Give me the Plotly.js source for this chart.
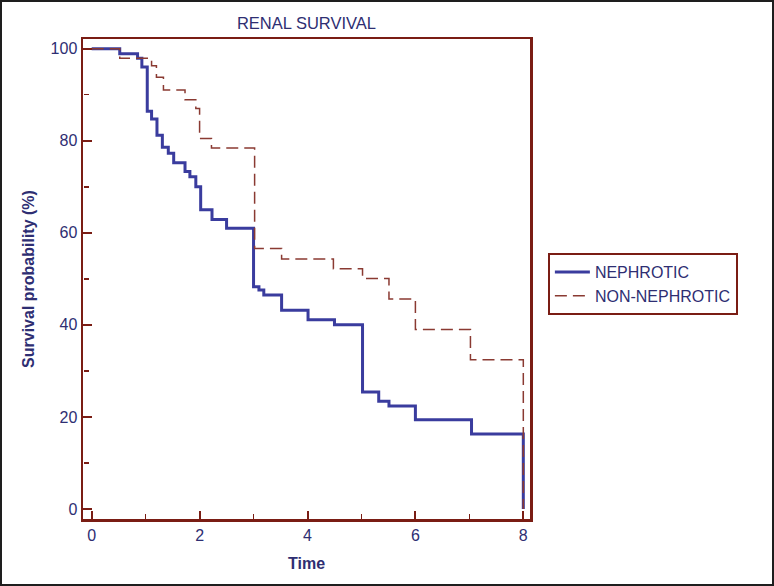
<!DOCTYPE html>
<html>
<head>
<meta charset="utf-8">
<script src="https://cdn.plot.ly/plotly-3.0.1.min.js"></script>
<style>
  html, body { margin: 0; padding: 0; background: #fff; }
  #chart { width: 774px; height: 586px; }
  #frame { position: absolute; left: 0; top: 0; width: 774px; height: 586px; box-sizing: border-box; border: 2px solid #1e1e1e; pointer-events: none; }
</style>
</head>
<body>
<div id="chart"></div>
<div id="frame"></div>
<script>
// Kaplan-Meier step data (time, survival %)
const nephroticTime = [0, 0.52, 0.85, 0.93, 1.03, 1.11, 1.21, 1.31, 1.42, 1.52, 1.73, 1.82, 1.93, 2.02, 2.23, 2.5, 3.0, 3.1, 3.19, 3.52, 4.01, 4.5, 5.02, 5.32, 5.51, 6.0, 7.04, 8.0];
const nephroticSurv = [100, 98.9, 97.9, 96.0, 86.4, 84.7, 81.2, 78.6, 77.3, 75.2, 73.3, 72.2, 70.0, 65.0, 62.9, 61.0, 48.3, 47.6, 46.5, 43.2, 41.1, 40.0, 25.4, 23.4, 22.4, 19.4, 16.3, 0];

const nonNephroticTime = [0, 0.52, 1.11, 1.2, 1.33, 1.73, 1.93, 2.0, 2.22, 3.02, 3.52, 4.48, 5.02, 5.51, 6.0, 7.02, 8.0];
const nonNephroticSurv = [100, 97.9, 96.3, 93.8, 91.0, 88.9, 87.0, 80.5, 78.4, 56.6, 54.3, 52.2, 50.1, 45.6, 39.0, 32.4, 0];

const seriesNames = ["NEPHROTIC", "NON-NEPHROTIC"];
const xTickStep = 2;
const yTickStep = 20;

const maroon = "#7a1d14";
const navy = "#2e2e72";
const font = "Liberation Sans, Arial, sans-serif";
const xRange = [-0.161, 8.124];
const yRange = [-2.17, 102.1];

const traces = [
  {
    x: nephroticTime, y: nephroticSurv, name: seriesNames[0],
    type: "scatter", mode: "lines",
    line: { shape: "hv", color: "#3a3c9e", width: 3 }
  },
  {
    x: nonNephroticTime, y: nonNephroticSurv, name: seriesNames[1],
    type: "scatter", mode: "lines",
    line: { shape: "hv", color: "#8a3a32", width: 1.5, dash: "12px,6px" }
  },
  // empty trace that only creates the overlay subplot carrying the inward tick marks
  { x: [], y: [], type: "scatter", mode: "lines", xaxis: "x2", yaxis: "y2", showlegend: false, hoverinfo: "skip" }
];

const layout = {
  width: 774, height: 586,
  margin: { l: 83, r: 244, t: 39, b: 67, pad: 0 },
  paper_bgcolor: "#ffffff", plot_bgcolor: "#ffffff",
  font: { family: font, color: navy, size: 16 },
  title: {
    text: "RENAL SURVIVAL",
    font: { family: font, size: 16.5, color: navy },
    xref: "paper", x: 0.5, xanchor: "center",
    yref: "container", y: 1 - 23 / 586, yanchor: "middle"
  },
  showlegend: true,
  legend: {
    x: 1.04, xanchor: "left", y: 0.554, yanchor: "top",
    bordercolor: maroon, borderwidth: 2, bgcolor: "#ffffff",
    font: { family: font, size: 16, color: navy },
    itemwidth: 35,
    tracegroupgap: 0
  },
  xaxis: {
    range: xRange,
    tickmode: "linear", tick0: 0, dtick: xTickStep,
    ticks: "inside", ticklen: 8, tickwidth: 2, tickcolor: maroon,
    showline: true, linecolor: maroon, linewidth: 2.5, mirror: true,
    showgrid: false, zeroline: false,
    tickfont: { family: font, size: 16, color: navy },
    title: { text: "<b>Time</b>", font: { family: font, size: 16, color: navy }, standoff: 15 }
  },
  yaxis: {
    range: yRange,
    tickmode: "linear", tick0: 0, dtick: yTickStep,
    ticks: "inside", ticklen: 8, tickwidth: 2, tickcolor: maroon,
    showline: true, linecolor: maroon, linewidth: 2.5, mirror: true,
    showgrid: false, zeroline: false,
    tickfont: { family: font, size: 16, color: navy },
    title: { text: "<b>Survival probability (%)</b>", font: { family: font, size: 16, color: navy }, standoff: 12 }
  },
  // overlay axes placed on the bottom/left edges, facing inward, to draw major + minor tick marks
  xaxis2: {
    overlaying: "x", anchor: "free", position: 0, side: "top", range: xRange, automargin: false,
    tickmode: "linear", tick0: 0, dtick: xTickStep,
    ticks: "outside", ticklen: 8, tickwidth: 2, tickcolor: maroon,
    minor: { tickmode: "linear", tick0: 0, dtick: xTickStep / 2, ticks: "outside", ticklen: 5, tickwidth: 1.5, tickcolor: maroon, showgrid: false },
    showticklabels: false, showline: false, showgrid: false, zeroline: false
  },
  yaxis2: {
    overlaying: "y", anchor: "free", position: 0, side: "right", range: yRange, automargin: false,
    tickmode: "linear", tick0: 0, dtick: yTickStep,
    ticks: "outside", ticklen: 8, tickwidth: 2, tickcolor: maroon,
    minor: { tickmode: "linear", tick0: 0, dtick: yTickStep / 2, ticks: "outside", ticklen: 5, tickwidth: 1.5, tickcolor: maroon, showgrid: false },
    showticklabels: false, showline: false, showgrid: false, zeroline: false
  }
};

Plotly.newPlot("chart", traces, layout, { displayModeBar: false, staticPlot: true });
</script>
</body>
</html>
